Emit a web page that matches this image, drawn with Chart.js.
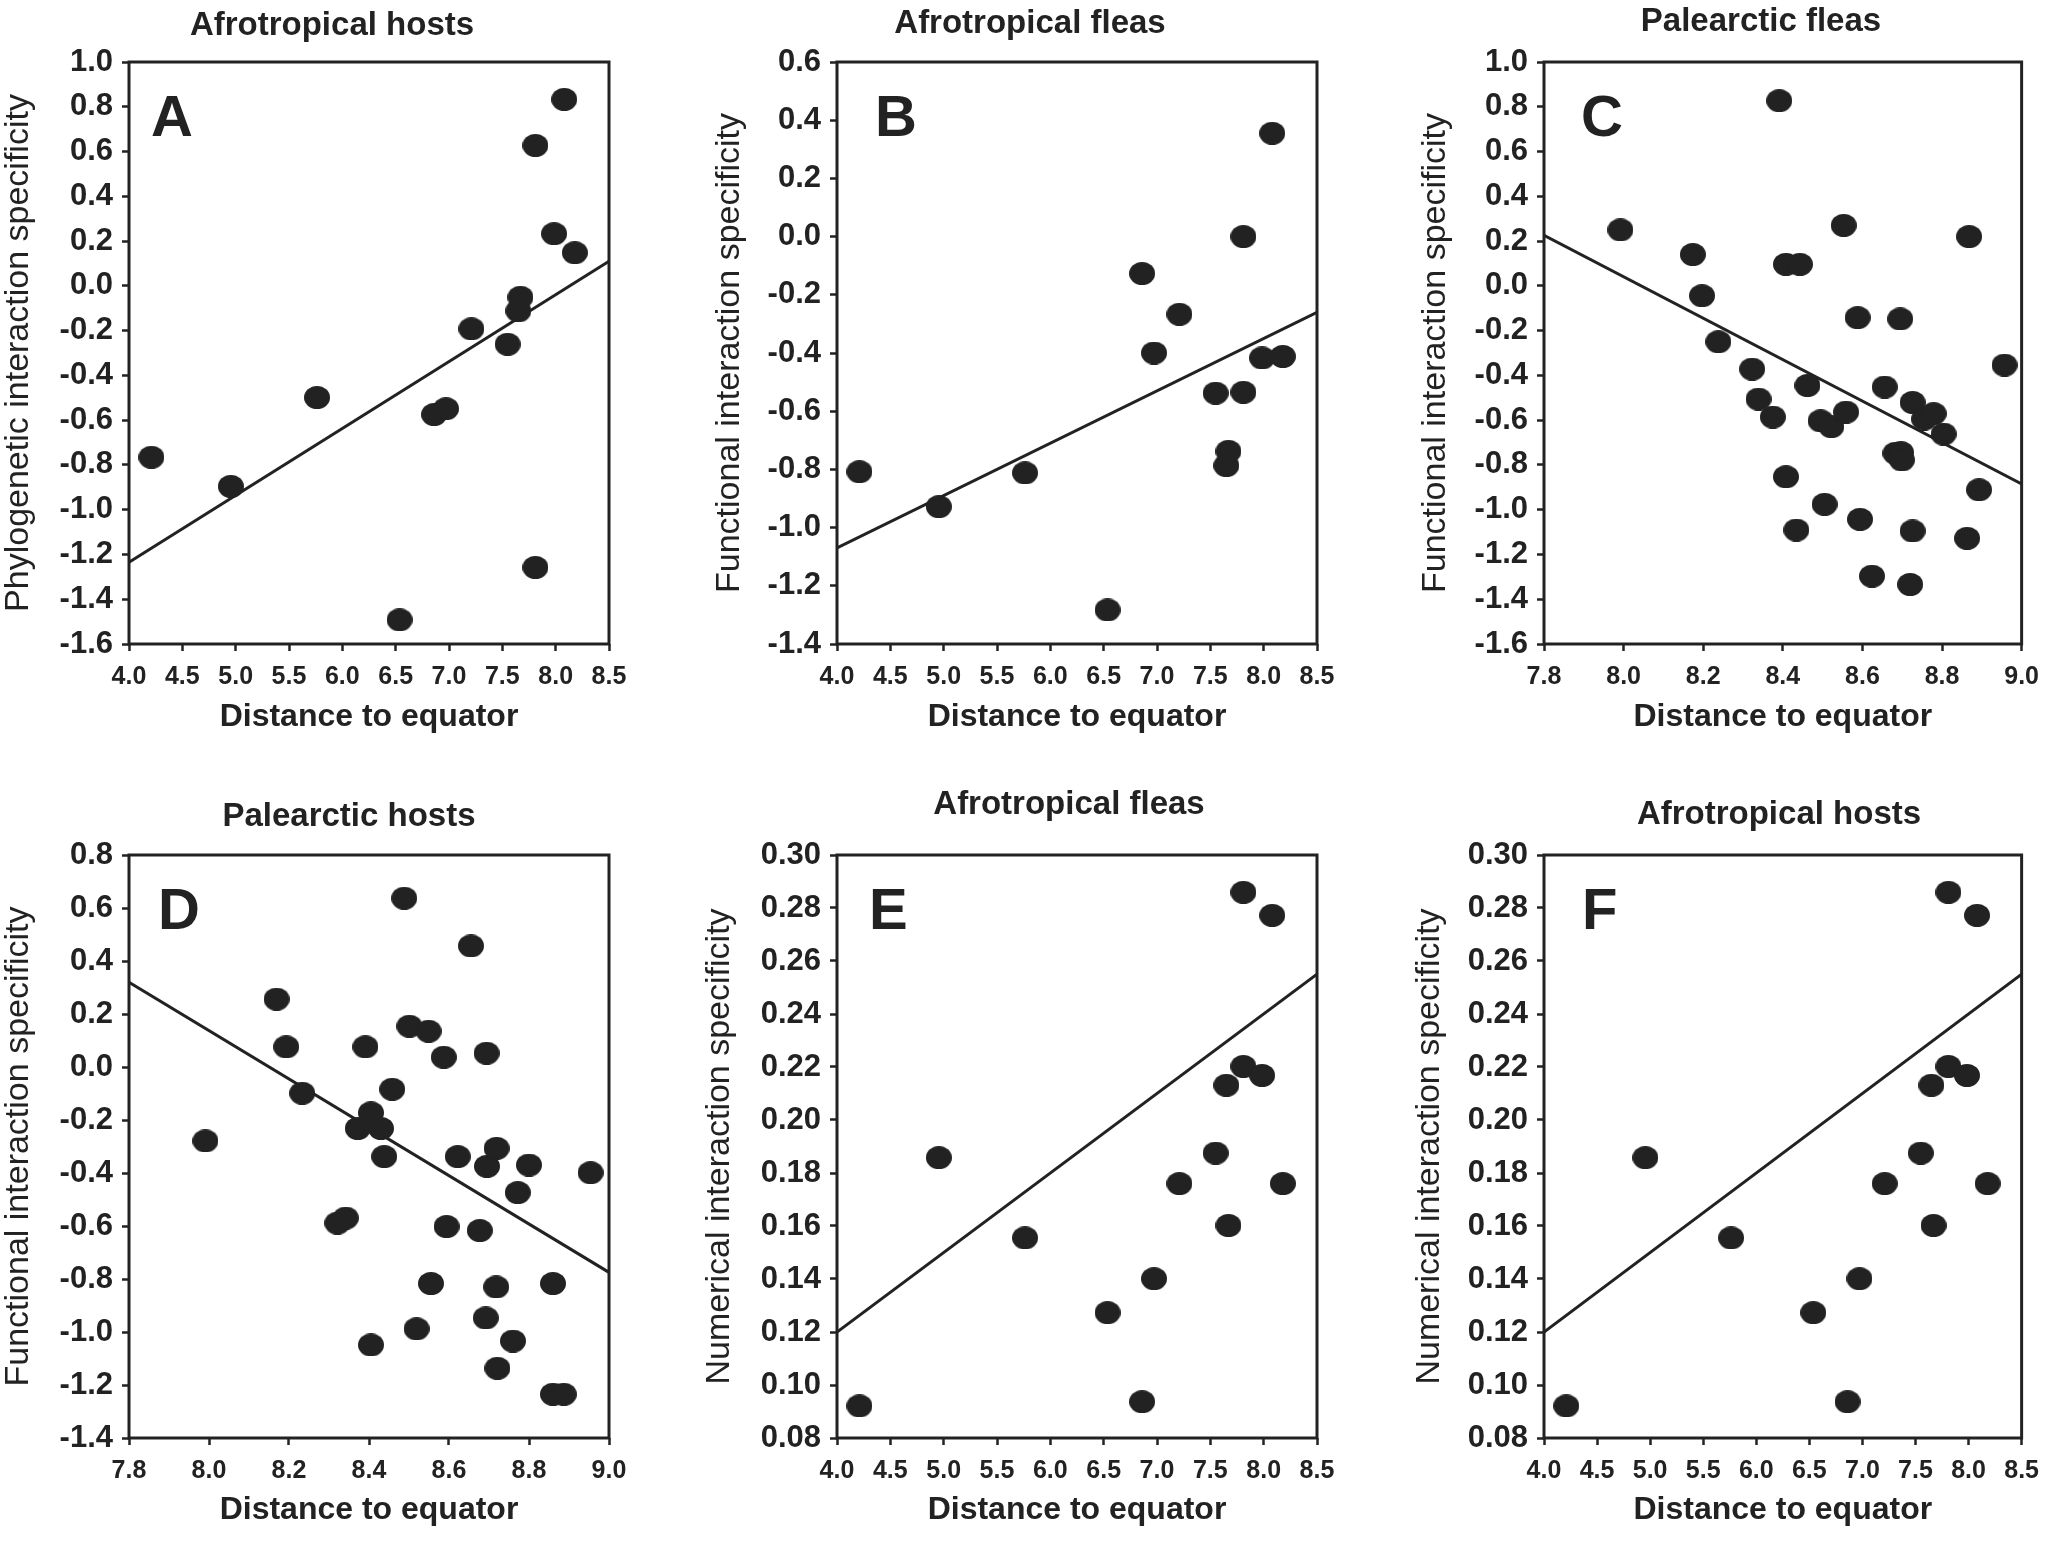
<!DOCTYPE html>
<html lang="en">
<head>
<meta charset="UTF-8">
<title>Interaction specificity vs distance to equator</title>
<script src="https://cdn.jsdelivr.net/npm/chart.js@4.4.1/dist/chart.umd.min.js"></script>
<style>
  html, body { margin: 0; padding: 0; background: #fff; }
  body { width: 2050px; height: 1551px; position: relative; overflow: hidden; }
  canvas { position: absolute; }
</style>
</head>
<body>
<canvas id="chartA"></canvas>
<canvas id="chartB"></canvas>
<canvas id="chartC"></canvas>
<canvas id="chartD"></canvas>
<canvas id="chartE"></canvas>
<canvas id="chartF"></canvas>
<script>
// -------------------- Data: Afrotropical (panels A, B, E, F) --------------------
const afroX = [4.21, 4.955, 5.763, 6.537, 6.86, 6.972, 7.21, 7.55, 7.65, 7.67, 7.81, 7.81, 7.985, 8.08, 8.18];
const aY = [-0.766, -0.896, -0.499, -1.492, -0.575, -0.549, -0.192, -0.261, -0.112, -0.051, 0.627, -1.258, 0.233, 0.833, 0.148];
const bY = [-0.808, -0.928, -0.812, -1.283, -0.127, -0.400, -0.267, -0.538, -0.787, -0.738, 0.000, -0.535, -0.417, 0.355, -0.412];
const eY = [0.0921, 0.1858, 0.1555, 0.1273, 0.0937, 0.1401, 0.1760, 0.1875, 0.2131, 0.1602, 0.2859, 0.2202, 0.2168, 0.2772, 0.1760];
const fY = [0.0921, 0.1858, 0.1555, 0.1273, 0.0937, 0.1401, 0.1760, 0.1875, 0.2131, 0.1602, 0.2859, 0.2202, 0.2168, 0.2772, 0.1760];

// -------------------- Data: Palearctic (panels C, D) --------------------
const cX = [7.992, 8.174, 8.197, 8.238, 8.323, 8.339, 8.375, 8.391, 8.408, 8.408, 8.443, 8.434, 8.462, 8.495, 8.522, 8.505, 8.553, 8.559,
            8.588, 8.594, 8.624, 8.656, 8.683, 8.697, 8.699, 8.695, 8.726, 8.726, 8.720, 8.755, 8.779, 8.804, 8.863, 8.868, 8.893, 8.957];
const cY = [0.250, 0.140, -0.044, -0.250, -0.372, -0.506, -0.586, 0.827, 0.096, -0.853, 0.096, -1.091, -0.445, -0.603, -0.629, -0.976, 0.270, -0.564,
            -0.142, -1.043, -1.297, -0.452, -0.748, -0.745, -0.778, -0.148, -0.521, -1.095, -1.334, -0.595, -0.571, -0.662, -1.128, 0.220, -0.911, -0.354];
const dX = [7.991, 8.169, 8.193, 8.233, 8.321, 8.342, 8.372, 8.391, 8.405, 8.430, 8.438, 8.405, 8.458, 8.488, 8.501, 8.519, 8.549, 8.555,
            8.587, 8.594, 8.622, 8.655, 8.677, 8.694, 8.695, 8.692, 8.719, 8.718, 8.721, 8.760, 8.772, 8.800, 8.860, 8.860, 8.887, 8.954];
const dY = [-0.279, 0.256, 0.076, -0.099, -0.589, -0.570, -0.232, 0.076, -0.173, -0.232, -0.338, -1.049, -0.084, 0.637, 0.154, -0.988, 0.135, -0.817,
            0.037, -0.602, -0.338, 0.457, -0.617, 0.052, -0.375, -0.947, -0.307, -0.830, -1.137, -1.034, -0.474, -0.370, -0.817, -1.235, -1.235, -0.399];

// -------------------- Regression lines (ends read at the axis limits) --------------------
const afroFitX = [4.0, 8.5];
const palFitX = [7.8, 9.0];
const aFitY = [-1.235, 0.11];
const bFitY = [-1.07, -0.26];
const cFitY = [0.226, -0.885];
const dFitY = [0.32, -0.775];
const eFitY = [0.120, 0.255];
const fFitY = [0.120, 0.255];

// -------------------- Tick values --------------------
const afroXTicks = [4.0, 4.5, 5.0, 5.5, 6.0, 6.5, 7.0, 7.5, 8.0, 8.5];
const palXTicks = [7.8, 8.0, 8.2, 8.4, 8.6, 8.8, 9.0];
const aYTicks = [1.0, 0.8, 0.6, 0.4, 0.2, 0.0, -0.2, -0.4, -0.6, -0.8, -1.0, -1.2, -1.4, -1.6];
const bYTicks = [0.6, 0.4, 0.2, 0.0, -0.2, -0.4, -0.6, -0.8, -1.0, -1.2, -1.4];
const cYTicks = [1.0, 0.8, 0.6, 0.4, 0.2, 0.0, -0.2, -0.4, -0.6, -0.8, -1.0, -1.2, -1.4, -1.6];
const dYTicks = [0.8, 0.6, 0.4, 0.2, 0.0, -0.2, -0.4, -0.6, -0.8, -1.0, -1.2, -1.4];
const eYTicks = [0.30, 0.28, 0.26, 0.24, 0.22, 0.20, 0.18, 0.16, 0.14, 0.12, 0.10, 0.08];

const FONT = '"Liberation Sans", Arial, Helvetica, sans-serif';
const INK = '#222';

function fmt(v, d) {
    return (Math.abs(v) < 1e-9 ? 0 : v).toFixed(d);
}

// slightly wide filled ellipse, used as the point style
function makeDot(w, h) {
    const c = document.createElement('canvas');
    c.width = w;
    c.height = h;
    const g = c.getContext('2d');
    g.fillStyle = INK;
    g.beginPath();
    g.ellipse(w / 2, h / 2, w / 2, h / 2, 0, 0, Math.PI * 2);
    g.fill();
    return c;
}
const dot = makeDot(26, 23);

// -------------------- Plugin: frame, title and panel letter --------------------
const panelDecor = {
    id: 'panelDecor',
    afterDatasetsDraw(chart, args, opts) {
        const { ctx, chartArea: a } = chart;
        ctx.save();
        ctx.strokeStyle = INK;
        ctx.lineWidth = 3;
        ctx.strokeRect(a.left, a.top, a.right - a.left, a.bottom - a.top);

        ctx.fillStyle = INK;
        ctx.font = `bold 58px ${FONT}`;
        ctx.textAlign = 'left';
        ctx.textBaseline = 'alphabetic';
        ctx.fillText(opts.letter, a.left + opts.letterDx, a.top + 74);

        ctx.font = `bold 33px ${FONT}`;
        ctx.textAlign = 'center';
        ctx.textBaseline = 'middle';
        ctx.fillText(opts.title, opts.titleX, opts.titleY);
        ctx.restore();
    }
};

// -------------------- One panel --------------------
function makePanel(p) {
    const canvas = document.getElementById(p.id);
    const cl = Math.max(0, p.yLabelX - 30);
    const cr = Math.min(2050, p.box.r + 32);
    const ct = p.rowTop, cb = p.rowBottom;
    canvas.width = cr - cl;
    canvas.height = cb - ct;
    canvas.style.left = cl + 'px';
    canvas.style.top = ct + 'px';
    canvas.style.width = (cr - cl) + 'px';
    canvas.style.height = (cb - ct) + 'px';

    const yTitlePad = Math.max(0, p.yLabelX - cl - 34 * 1.1 / 2);
    const xTitlePad = cb - p.xLabelY - 32 * 1.2 / 2;

    const tickGrid = { drawOnChartArea: false, drawTicks: true, tickLength: 7, tickWidth: 2.5, tickColor: INK };

    new Chart(canvas, {
        type: 'scatter',
        data: {
            datasets: [
                {
                    data: p.x.map((v, i) => ({ x: v, y: p.y[i] })),
                    pointStyle: dot,
                    pointRadius: 12,
                    pointHoverRadius: 12
                },
                {
                    data: p.fitX.map((v, i) => ({ x: v, y: p.fitY[i] })),
                    showLine: true,
                    borderColor: INK,
                    borderWidth: 3,
                    pointRadius: 0,
                    fill: false
                }
            ]
        },
        options: {
            responsive: false,
            animation: false,
            devicePixelRatio: 1,
            events: [],
            layout: { padding: { left: 0, right: cr - p.box.r, top: p.box.t - ct, bottom: 0 } },
            plugins: {
                legend: { display: false },
                tooltip: { enabled: false },
                panelDecor: {
                    letter: p.letter,
                    letterDx: p.letterDx,
                    title: p.title,
                    titleX: p.titleX - cl,
                    titleY: p.titleY - ct
                }
            },
            scales: {
                x: {
                    type: 'linear',
                    min: p.xTicks[0],
                    max: p.xTicks[p.xTicks.length - 1],
                    afterBuildTicks: s => { s.ticks = p.xTicks.map(v => ({ value: v })); },
                    afterFit: s => { s.height = cb - p.box.b; },
                    grid: tickGrid,
                    border: { display: false },
                    ticks: {
                        autoSkip: false, maxRotation: 0, padding: 11, color: INK,
                        font: { family: FONT, size: 25, weight: 'bold' },
                        callback: v => fmt(v, 1)
                    },
                    title: {
                        display: true, text: 'Distance to equator', color: INK,
                        font: { family: FONT, size: 32, weight: 'bold' },
                        padding: { top: 0, bottom: xTitlePad }
                    }
                },
                y: {
                    type: 'linear',
                    min: p.yTicks[p.yTicks.length - 1],
                    max: p.yTicks[0],
                    afterBuildTicks: s => { s.ticks = p.yTicks.slice().reverse().map(v => ({ value: v })); },
                    afterFit: s => { s.width = p.box.l - cl; },
                    grid: tickGrid,
                    border: { display: false },
                    ticks: {
                        autoSkip: false, padding: 9, color: INK,
                        font: { family: FONT, size: 31, weight: 'bold' },
                        callback: v => fmt(v, p.yDec)
                    },
                    title: {
                        display: true, text: p.yLabel, color: INK,
                        font: { family: FONT, size: 34, weight: 'normal', lineHeight: 1.1 },
                        padding: { top: yTitlePad, bottom: 0 }
                    }
                }
            }
        },
        plugins: [panelDecor]
    });
}

// -------------------- Panels --------------------
const TOP = { rowTop: 0, rowBottom: 790, xLabelY: 717 };
const BOTTOM = { rowTop: 790, rowBottom: 1551, xLabelY: 1510 };

makePanel(Object.assign({}, TOP, {
    id: 'chartA', letter: 'A', letterDx: 22, title: 'Afrotropical hosts', titleX: 332, titleY: 26,
    yLabel: 'Phylogenetic interaction specificity', yLabelX: 18, yDec: 1,
    box: { l: 129, t: 62, r: 609, b: 644 },
    x: afroX, y: aY, fitX: afroFitX, fitY: aFitY, xTicks: afroXTicks, yTicks: aYTicks
}));
makePanel(Object.assign({}, TOP, {
    id: 'chartB', letter: 'B', letterDx: 38, title: 'Afrotropical fleas', titleX: 1030, titleY: 24,
    yLabel: 'Functional interaction specificity', yLabelX: 730, yDec: 1,
    box: { l: 837, t: 62, r: 1317, b: 644 },
    x: afroX, y: bY, fitX: afroFitX, fitY: bFitY, xTicks: afroXTicks, yTicks: bYTicks
}));
makePanel(Object.assign({}, TOP, {
    id: 'chartC', letter: 'C', letterDx: 37, title: 'Palearctic fleas', titleX: 1761, titleY: 22,
    yLabel: 'Functional interaction specificity', yLabelX: 1436, yDec: 1,
    box: { l: 1544, t: 62, r: 2024, b: 644 },
    x: cX, y: cY, fitX: palFitX, fitY: cFitY, xTicks: palXTicks, yTicks: cYTicks
}));
makePanel(Object.assign({}, BOTTOM, {
    id: 'chartD', letter: 'D', letterDx: 29, title: 'Palearctic hosts', titleX: 349, titleY: 817,
    yLabel: 'Functional interaction specificity', yLabelX: 18, yDec: 1,
    box: { l: 129, t: 855, r: 609, b: 1438 },
    x: dX, y: dY, fitX: palFitX, fitY: dFitY, xTicks: palXTicks, yTicks: dYTicks
}));
makePanel(Object.assign({}, BOTTOM, {
    id: 'chartE', letter: 'E', letterDx: 32, title: 'Afrotropical fleas', titleX: 1069, titleY: 805,
    yLabel: 'Numerical interaction specificity', yLabelX: 720, yDec: 2,
    box: { l: 837, t: 855, r: 1317, b: 1438 },
    x: afroX, y: eY, fitX: afroFitX, fitY: eFitY, xTicks: afroXTicks, yTicks: eYTicks
}));
makePanel(Object.assign({}, BOTTOM, {
    id: 'chartF', letter: 'F', letterDx: 38, title: 'Afrotropical hosts', titleX: 1779, titleY: 815,
    yLabel: 'Numerical interaction specificity', yLabelX: 1430, yDec: 2,
    box: { l: 1544, t: 855, r: 2024, b: 1438 },
    x: afroX, y: fY, fitX: afroFitX, fitY: fFitY, xTicks: afroXTicks, yTicks: eYTicks
}));
</script>
</body>
</html>
